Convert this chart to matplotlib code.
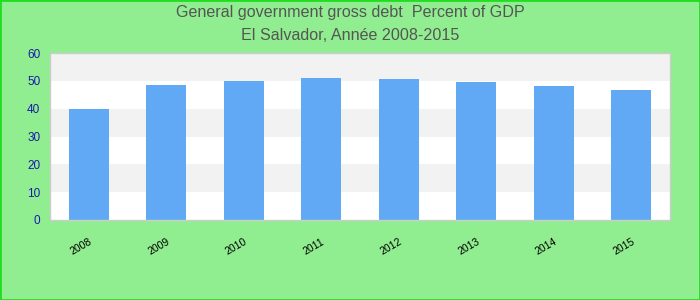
import matplotlib
matplotlib.use("Agg")
import matplotlib.pyplot as plt
from matplotlib.patches import Rectangle
from matplotlib.transforms import ScaledTranslation

years = ["2008", "2009", "2010", "2011", "2012", "2013", "2014", "2015"]
debt = [40.0, 48.5, 50.0, 51.0, 50.7, 49.6, 48.2, 46.7]
yticks = [0, 10, 20, 30, 40, 50, 60]

plt.rcParams['font.family'] = ['Liberation Sans', 'DejaVu Sans']

fig = plt.figure(figsize=(7, 3), dpi=100, facecolor='#90ee90')
fig.patches.append(Rectangle((0, 0), 1, 1, transform=fig.transFigure, fill=False,
                             edgecolor='#22dd22', linewidth=2))
ax = fig.add_axes([50/700, 1 - 220/300, 620/700, 167/300])
ax.set_facecolor('white')

for i in range(len(yticks) - 1):
    if i % 2 == 1:
        ax.axhspan(yticks[i], yticks[i+1], color='#f2f2f2', zorder=0, lw=0)

x = list(range(len(years)))
ax.bar(x, debt, width=0.52, color='#61a9f4', zorder=2)
ax.set_xlim(-0.5, len(years) - 0.5)
ax.set_ylim(0, 60)
ax.set_yticks(yticks)
ax.set_yticklabels([str(v) for v in yticks], color='#1a1aaa', fontsize=8.5)
ax.set_xticks(x)
ax.set_xticklabels(years, rotation=30, fontsize=7.5, color='black', ha='right', rotation_mode='anchor')
offset = ScaledTranslation(-6/100, 0, fig.dpi_scale_trans)
for lbl in ax.get_xticklabels():
    lbl.set_transform(lbl.get_transform() + offset)
ax.tick_params(axis='both', length=0)
ax.tick_params(axis='y', pad=7)
ax.tick_params(axis='x', pad=12)
for s in ax.spines.values():
    s.set_color('#cccccc')
    s.set_linewidth(1)

fig.text(0.5, 1 - 13/300, "General government gross debt  Percent of GDP", ha='center', va='center',
         fontsize=11.6, color='#555555')
fig.text(0.5, 1 - 36/300, "El Salvador, Année 2008-2015", ha='center', va='center',
         fontsize=11.6, color='#555555')

fig.savefig("out.png", dpi=100, facecolor=fig.get_facecolor())
